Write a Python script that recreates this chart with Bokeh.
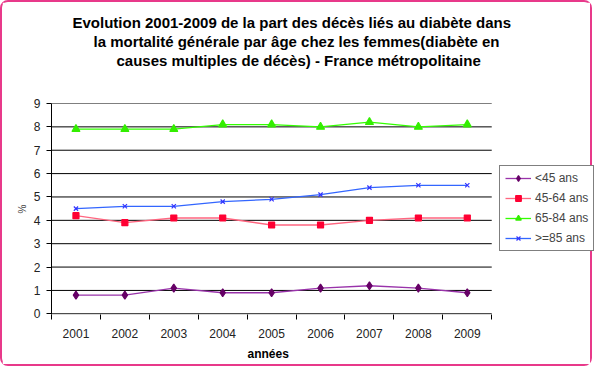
from bokeh.plotting import figure
from bokeh.models import FixedTicker, Legend, LegendItem, Title, Range1d
from bokeh.embed import file_html
from bokeh.resources import INLINE

years = ["2001", "2002", "2003", "2004", "2005", "2006", "2007", "2008", "2009"]
under45 = [0.8, 0.8, 1.1, 0.9, 0.9, 1.1, 1.2, 1.1, 0.9]
age45_64 = [4.2, 3.9, 4.1, 4.1, 3.8, 3.8, 4.0, 4.1, 4.1]
age65_84 = [7.9, 7.9, 7.9, 8.1, 8.1, 8.0, 8.2, 8.0, 8.1]
over85 = [4.5, 4.6, 4.6, 4.8, 4.9, 5.1, 5.4, 5.5, 5.5]
y_ticks = [0, 1, 2, 3, 4, 5, 6, 7, 8, 9]
title_lines = [
    "Evolution 2001-2009 de la part des décès liés au diabète dans",
    "la mortalité générale par âge chez les femmes(diabète en",
    "causes multiples de décès) - France métropolitaine",
]
series_names = ["<45 ans", "45-64 ans", "65-84 ans", ">=85 ans"]
x_title = "années"
y_title = "%"

FONT = "Liberation Sans"
n = len(years)
xs = list(range(1, n + 1))

# layout (pixels, canvas coordinates)
W, H = 592, 366          # outer size incl. 2px css border
CW = W - 4               # canvas width
LEFT, TOP, BOTTOM = 49, 101, 54
PLOT_W = 437             # width of the category area
frame_w = CW - LEFT
x_end = 0.5 + n * frame_w / PLOT_W

p = figure(width=W, height=H, output_backend="svg", toolbar_location=None,
           x_range=Range1d(0.5, x_end), y_range=Range1d(-0.03, 9),
           min_border_left=LEFT, min_border_right=0, min_border_top=TOP,
           min_border_bottom=BOTTOM)
p.outline_line_color = None
p.background_fill_color = "white"
p.border_fill_color = "white"
p.styles = {"border": "2px solid #e8398a", "border-radius": "8px"}

# titles (added bottom-up)
p.add_layout(Title(text=" ", text_font=FONT, text_font_size="14px",
                   standoff=17), "above")
offsets = [21, 42, 65]
for line, off in reversed(list(zip(title_lines, offsets))):
    p.add_layout(Title(text=line, text_font=FONT, text_font_size="15px",
                       text_font_style="bold", align="left", offset=off,
                       text_color="black", standoff=0), "above")

# y axis
p.yaxis.ticker = FixedTicker(ticks=y_ticks)
p.yaxis.axis_line_color = "black"
p.yaxis.major_tick_line_color = "black"
p.yaxis.major_tick_out = 5
p.yaxis.major_tick_in = 0
p.yaxis.minor_tick_line_color = None
p.yaxis.major_label_text_font = FONT
p.yaxis.major_label_text_font_size = "12px"
p.yaxis.major_label_text_color = "#222222"
p.yaxis.major_label_standoff = 6
p.yaxis.axis_label = y_title
p.yaxis.axis_label_text_font = FONT
p.yaxis.axis_label_text_font_size = "10px"
p.yaxis.axis_label_text_font_style = "normal"
p.yaxis.axis_label_standoff = 3

# x axis (ticks between categories)
p.xaxis.ticker = FixedTicker(ticks=xs,
                             minor_ticks=[x - 0.5 for x in xs] + [n + 0.5])
p.xaxis.major_label_overrides = {x: y for x, y in zip(xs, years)}
p.xaxis.major_tick_line_color = None
p.xaxis.minor_tick_line_color = "black"
p.xaxis.minor_tick_out = 5
p.xaxis.minor_tick_in = 0
p.xaxis.axis_line_color = None
p.xaxis.major_label_text_font = FONT
p.xaxis.major_label_text_font_size = "12px"
p.xaxis.major_label_text_color = "#222222"
p.xaxis.major_label_standoff = 8
p.add_layout(Title(text=x_title, text_font=FONT, text_font_size="12px",
                   text_font_style="bold", align="left", offset=196,
                   text_color="black", standoff=8), "below")

p.xgrid.grid_line_color = None
p.ygrid.grid_line_color = None
# horizontal grid lines and axis line over the category area only
p.segment(x0=[0.5] * len(y_ticks), x1=[n + 0.5] * len(y_ticks),
          y0=y_ticks, y1=y_ticks, line_color="black", line_width=1)

styles = [
    (under45, "#9933aa", "#660066", "diamond", 8),
    (age45_64, "#ff6680", "#ff0033", "square", 6),
    (age65_84, "#33ff00", "#33ee00", "triangle", 8),
    (over85, "#3366ff", "#3333ff", "x", 6),
]
items = []
for (vals, lc, mc, mk, sz), name in zip(styles, series_names):
    l = p.line(xs, vals, line_color=lc, line_width=1.3)
    s = p.scatter(xs, vals, marker=mk, size=sz, fill_color=mc, line_color=mc,
                  line_width=1.2)
    items.append(LegendItem(label=name, renderers=[l, s]))

legend = Legend(items=items, location=(448, 63), border_line_color="black",
                border_line_width=1, label_text_font=FONT,
                label_text_font_size="12px", glyph_width=26, glyph_height=14,
                label_standoff=4, spacing=6, padding=5, margin=0,
                background_fill_alpha=1)
p.add_layout(legend, "center")

open("out.html", "w").write(file_html(p, INLINE))
